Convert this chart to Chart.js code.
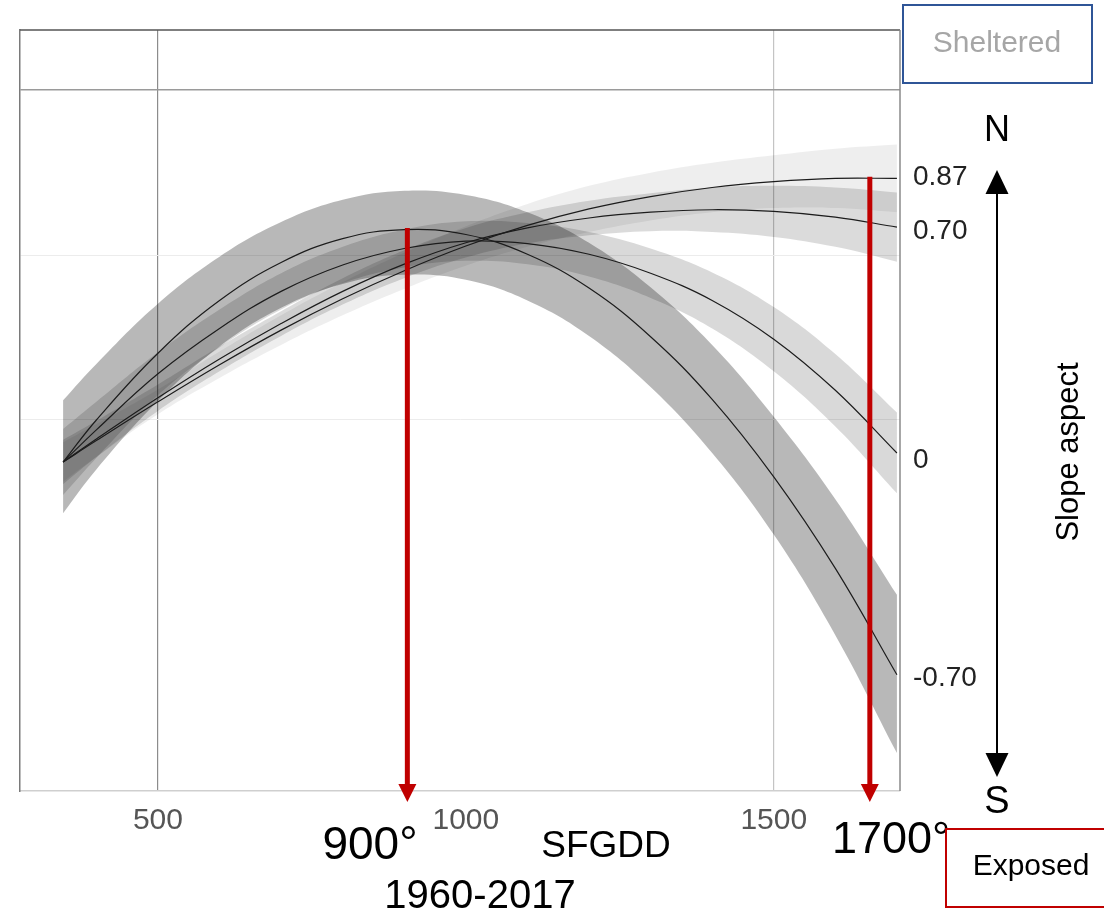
<!DOCTYPE html>
<html>
<head>
<meta charset="utf-8">
<title>SFGDD by slope aspect</title>
<script src="https://cdn.jsdelivr.net/npm/chart.js@4.4.1/dist/chart.umd.min.js"></script>
<style>
  html, body { margin: 0; padding: 0; background: #fff; }
  #wrap { position: relative; width: 1104px; height: 917px; }
</style>
</head>
<body>
<div id="wrap"><canvas id="chart"></canvas></div>
<script>
// --- data ---
const sfgdd = [346, 400, 500, 600, 700, 800, 900, 1000, 1100, 1200, 1300, 1400, 1500, 1600, 1700];

// slope aspect 0.87 (north, sheltered)
const fit087 = [0.149, 0.175, 0.222, 0.267, 0.309, 0.347, 0.381, 0.411, 0.436, 0.456, 0.471, 0.482, 0.489, 0.493, 0.493];
const hi087  = [0.173, 0.195, 0.237, 0.283, 0.327, 0.367, 0.403, 0.435, 0.462, 0.484, 0.500, 0.512, 0.521, 0.529, 0.534];
const lo087  = [0.125, 0.155, 0.207, 0.251, 0.291, 0.327, 0.359, 0.387, 0.410, 0.428, 0.442, 0.452, 0.457, 0.457, 0.452];

// slope aspect 0.70
const fit070 = [0.149, 0.177, 0.227, 0.274, 0.317, 0.356, 0.389, 0.415, 0.433, 0.445, 0.452, 0.455, 0.453, 0.446, 0.434];
const hi070  = [0.176, 0.199, 0.243, 0.289, 0.332, 0.372, 0.406, 0.433, 0.452, 0.466, 0.475, 0.482, 0.484, 0.482, 0.476];
const lo070  = [0.122, 0.155, 0.211, 0.259, 0.302, 0.340, 0.372, 0.397, 0.414, 0.424, 0.429, 0.428, 0.422, 0.410, 0.392];

// slope aspect 0
const fit000 = [0.149, 0.188, 0.256, 0.311, 0.356, 0.388, 0.408, 0.417, 0.414, 0.401, 0.378, 0.345, 0.298, 0.236, 0.160];
const hi000  = [0.189, 0.222, 0.282, 0.334, 0.378, 0.410, 0.431, 0.441, 0.439, 0.428, 0.408, 0.379, 0.337, 0.280, 0.209];
const lo000  = [0.109, 0.154, 0.230, 0.288, 0.334, 0.366, 0.385, 0.393, 0.389, 0.374, 0.348, 0.311, 0.259, 0.192, 0.111];

// slope aspect -0.70 (south, exposed)
const fitM070 = [0.149, 0.200, 0.281, 0.345, 0.391, 0.420, 0.431, 0.425, 0.401, 0.360, 0.301, 0.225, 0.131, 0.020, -0.109];
const hiM070  = [0.224, 0.268, 0.341, 0.398, 0.440, 0.467, 0.478, 0.473, 0.452, 0.415, 0.361, 0.291, 0.204, 0.104, -0.012];
const loM070  = [0.087, 0.140, 0.223, 0.289, 0.336, 0.365, 0.376, 0.370, 0.345, 0.302, 0.240, 0.160, 0.061, -0.061, -0.204];

const aspectLabels = ["0.87", "0.70", "0", "-0.70"];
const xTickValues = [500, 1000, 1500];
const yGridValues = [0.2, 0.4, 0.6];

// red markers: SFGDD position, top of arrow (curve value), label
const markerSfgdd = [905, 1656];
const markerTop = [0.433, 0.495];
const markerLabels = ["900°", "1700°"];

const FONT = '"Liberation Sans", Arial, Helvetica, sans-serif';

function pts(ys) {
  return sfgdd.map((x, i) => ({ x: x, y: ys[i] }));
}

const series = [
  { fit: fit087, lo: lo087, hi: hi087, band: "rgba(0,0,0,0.065)" },
  { fit: fit070, lo: lo070, hi: hi070, band: "rgba(0,0,0,0.14)" },
  { fit: fit000, lo: lo000, hi: hi000, band: "rgba(0,0,0,0.15)" },
  { fit: fitM070, lo: loM070, hi: hiM070, band: "rgba(0,0,0,0.28)" }
];

const datasets = [];
series.forEach(s => {
  const loIndex = datasets.length;
  datasets.push({
    data: pts(s.lo), borderWidth: 0, pointRadius: 0, tension: 0.4, fill: false, order: 2
  });
  datasets.push({
    data: pts(s.hi), borderWidth: 0, pointRadius: 0, tension: 0.4,
    fill: loIndex, backgroundColor: s.band, order: 2
  });
});
series.forEach(s => {
  datasets.push({
    data: pts(s.fit), borderColor: "#1c1c1c", borderWidth: 1.2, pointRadius: 0,
    tension: 0.4, fill: false, order: 0
  });
});

function line(ctx, x1, y1, x2, y2) {
  ctx.beginPath();
  ctx.moveTo(x1, y1);
  ctx.lineTo(x2, y2);
  ctx.stroke();
}

function text(ctx, str, x, y, size, color, align) {
  ctx.font = size + "px " + FONT;
  ctx.fillStyle = color;
  ctx.textAlign = align || "center";
  ctx.textBaseline = "middle";
  ctx.fillText(str, x, y);
}

const overlay = {
  id: "overlay",
  afterDraw(chart) {
    const ctx = chart.ctx;
    const a = chart.chartArea;
    const xs = chart.scales.x;
    const ys = chart.scales.y;
    ctx.save();

    // frame
    ctx.lineWidth = 1.5;
    ctx.strokeStyle = "#555";
    line(ctx, a.left, a.top, a.right, a.top);
    ctx.strokeStyle = "#8a8a8a";
    line(ctx, a.right, a.top, a.right, a.bottom);

    // labels at the line ends
    const ends = [fit087, fit070, fit000, fitM070];
    const nudge = [-1, 4, 7, 4];
    ends.forEach((s, i) => {
      const yp = ys.getPixelForValue(s[s.length - 1]) + nudge[i];
      text(ctx, aspectLabels[i], a.right + 13, yp, 28, "#222", "left");
    });

    // red arrows
    ctx.strokeStyle = "#c00000";
    ctx.fillStyle = "#c00000";
    ctx.lineWidth = 5;
    const tip = a.bottom + 11;
    markerSfgdd.forEach((v, i) => {
      const xp = xs.getPixelForValue(v);
      const top = ys.getPixelForValue(markerTop[i]);
      line(ctx, xp, top, xp, tip - 16);
      ctx.beginPath();
      ctx.moveTo(xp - 9, tip - 18);
      ctx.lineTo(xp + 9, tip - 18);
      ctx.lineTo(xp, tip);
      ctx.closePath();
      ctx.fill();
    });

    // annotation texts
    text(ctx, markerLabels[0], 370, 846, 46, "#000");
    text(ctx, markerLabels[1], 891, 841, 45, "#000");
    text(ctx, "SFGDD", 606, 847, 37, "#000");
    text(ctx, "1960-2017", 480, 897, 40, "#000");

    // N / S arrow
    const ax = 997;
    ctx.strokeStyle = "#000";
    ctx.fillStyle = "#000";
    ctx.lineWidth = 2;
    line(ctx, ax, 192, ax, 756);
    ctx.beginPath();
    ctx.moveTo(ax, 170); ctx.lineTo(ax - 11.5, 194); ctx.lineTo(ax + 11.5, 194); ctx.closePath();
    ctx.fill();
    ctx.beginPath();
    ctx.moveTo(ax, 777); ctx.lineTo(ax - 11.5, 753); ctx.lineTo(ax + 11.5, 753); ctx.closePath();
    ctx.fill();
    text(ctx, "N", ax, 131, 36, "#000");
    text(ctx, "S", ax, 803, 38, "#000");

    ctx.save();
    ctx.translate(1069, 452);
    ctx.rotate(-Math.PI / 2);
    text(ctx, "Slope aspect", 0, 0, 31, "#000");
    ctx.restore();

    // boxes
    ctx.lineWidth = 2;
    ctx.strokeStyle = "#2f5597";
    ctx.strokeRect(903, 5, 189, 78);
    text(ctx, "Sheltered", 997, 44, 30, "#a6a6a6");
    ctx.strokeStyle = "#c00000";
    ctx.strokeRect(946, 829, 170, 78);
    text(ctx, "Exposed", 1031, 867, 30, "#000");

    ctx.restore();
  }
};

new Chart(document.getElementById("chart"), {
  type: "line",
  data: { datasets: datasets },
  options: {
    responsive: true,
    maintainAspectRatio: false,
    animation: false,
    layout: { padding: { left: 20, top: 30, right: 204, bottom: 0 } },
    plugins: {
      legend: { display: false },
      tooltip: { enabled: false },
      filler: { propagate: false }
    },
    scales: {
      x: {
        type: "linear",
        min: 276,
        max: 1705,
        afterBuildTicks: scale => { scale.ticks = xTickValues.map(v => ({ value: v })); },
        afterFit: scale => { scale.height = 126; },
        ticks: {
          padding: 12,
          color: "#555",
          font: { family: FONT, size: 30 },
          maxRotation: 0,
          callback: v => String(v)
        },
        grid: {
          drawTicks: false,
          lineWidth: 1.2,
          color: c => {
            if (!c.tick) return "rgba(0,0,0,0)";
            if (c.tick.value === 500) return "#8c8c8c";
            if (c.tick.value === 1500) return "#c4c4c4";
            return "rgba(0,0,0,0)";
          }
        },
        border: { display: true, color: "#cfcfcf", width: 1.5 }
      },
      y: {
        type: "linear",
        min: -0.25,
        max: 0.673,
        afterBuildTicks: scale => { scale.ticks = yGridValues.map(v => ({ value: v })); },
        afterFit: scale => { scale.width = 0; },
        ticks: { display: false },
        grid: {
          drawTicks: false,
          lineWidth: c => (c.tick && c.tick.value === 0.6 ? 1.5 : 1),
          color: c => (c.tick && c.tick.value === 0.6 ? "#9a9a9a" : "#ececec")
        },
        border: { display: true, color: "#7a7a7a", width: 1.5 }
      }
    }
  },
  plugins: [overlay]
});
</script>
</body>
</html>
